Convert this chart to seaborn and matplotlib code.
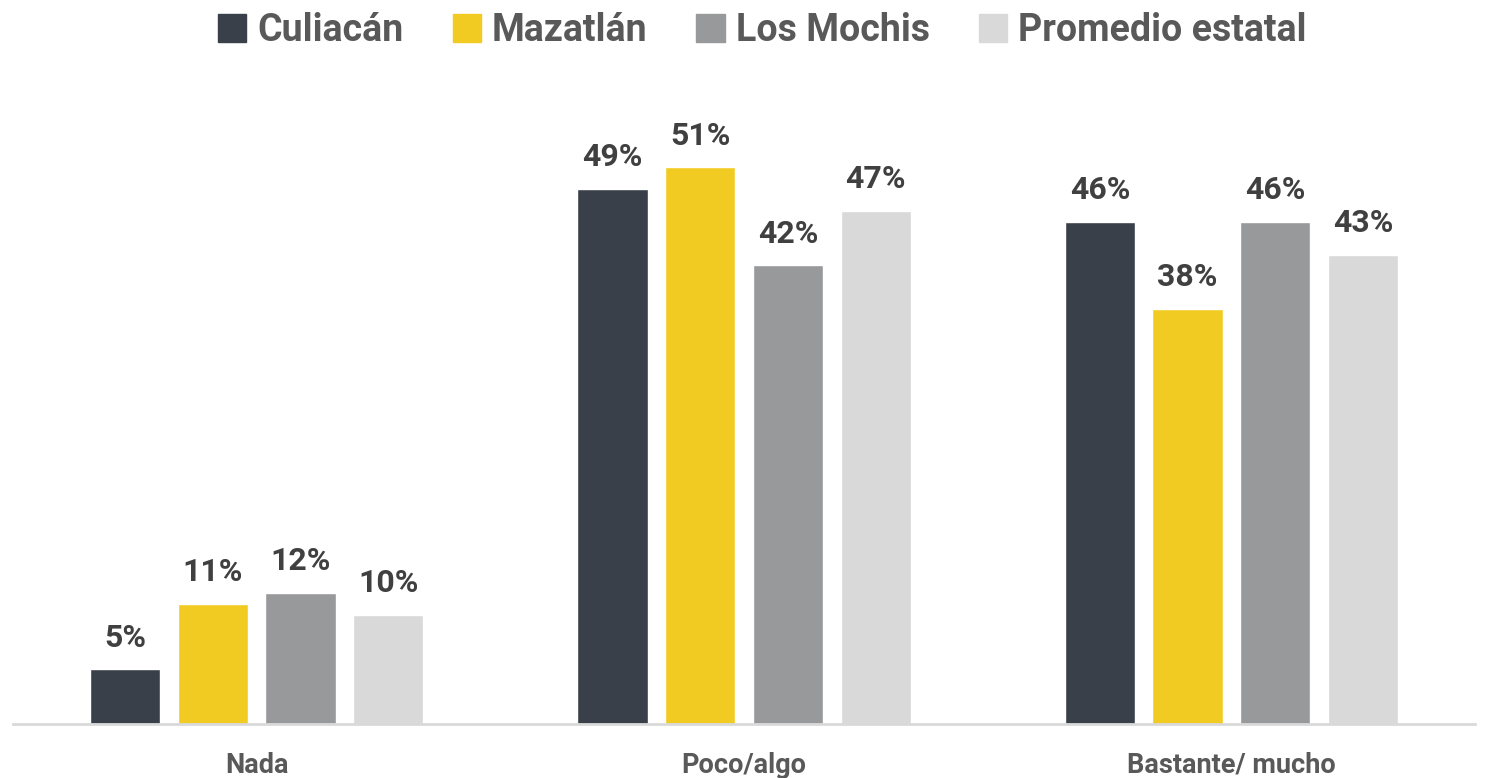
import pandas as pd
import matplotlib
matplotlib.use("Agg")
import matplotlib.pyplot as plt
import seaborn as sns

# data
categorias = ["Nada", "Poco/algo", "Bastante/ mucho"]
ciudades = ["Culiacán", "Mazatlán", "Los Mochis", "Promedio estatal"]
culiacan = [5, 49, 46]
mazatlan = [11, 51, 38]
los_mochis = [12, 42, 46]
promedio = [10, 47, 43]
colores = ["#3a404a", "#f2cb22", "#98999b", "#d9d9d9"]

df = pd.DataFrame({
    "categoria": categorias * 4,
    "ciudad": [c for c in ciudades for _ in categorias],
    "valor": culiacan + mazatlan + los_mochis + promedio,
})

sns.set_theme(style="white")
plt.rcParams["font.family"] = ["Roboto", "DejaVu Sans"]

fig = plt.figure(figsize=(14.86, 7.78), dpi=100)
ax = fig.add_axes([0.0087, 0.0694, 0.984, 0.842])

sns.barplot(data=df, x="categoria", y="valor", hue="ciudad", order=categorias,
            hue_order=ciudades, palette=colores, width=0.72, gap=0.2,
            saturation=1, ax=ax, legend=False)

for cont in ax.containers:
    ax.bar_label(cont, labels=[f"{v:.0f}%" for v in cont.datavalues],
                 padding=12, fontsize=23, fontweight="bold", color="#404040")

ax.set_ylim(0, 60)
ax.set_xlim(-0.5, 2.5)
ax.set_yticks([])
ax.set_xlabel("")
ax.set_ylabel("")
for s in ["top", "right", "left"]:
    ax.spines[s].set_visible(False)
ax.spines["bottom"].set_color("#d9d9d9")
ax.spines["bottom"].set_linewidth(2)
ax.tick_params(axis="x", length=0, pad=20, labelsize=19.5, labelcolor="#595959")
for t in ax.get_xticklabels():
    t.set_fontweight("bold")

handles = [plt.Rectangle((0, 0), 1, 1, color=c) for c in colores]
fig.legend(handles, ciudades, loc="upper center", bbox_to_anchor=(0.513, 1.028),
           ncol=4, frameon=False, handlelength=0.75, handleheight=0.75,
           handletextpad=0.3, columnspacing=1.3,
           prop={"size": 27, "weight": "bold"}, labelcolor="#595959")

fig.savefig("out.png", dpi=100)
